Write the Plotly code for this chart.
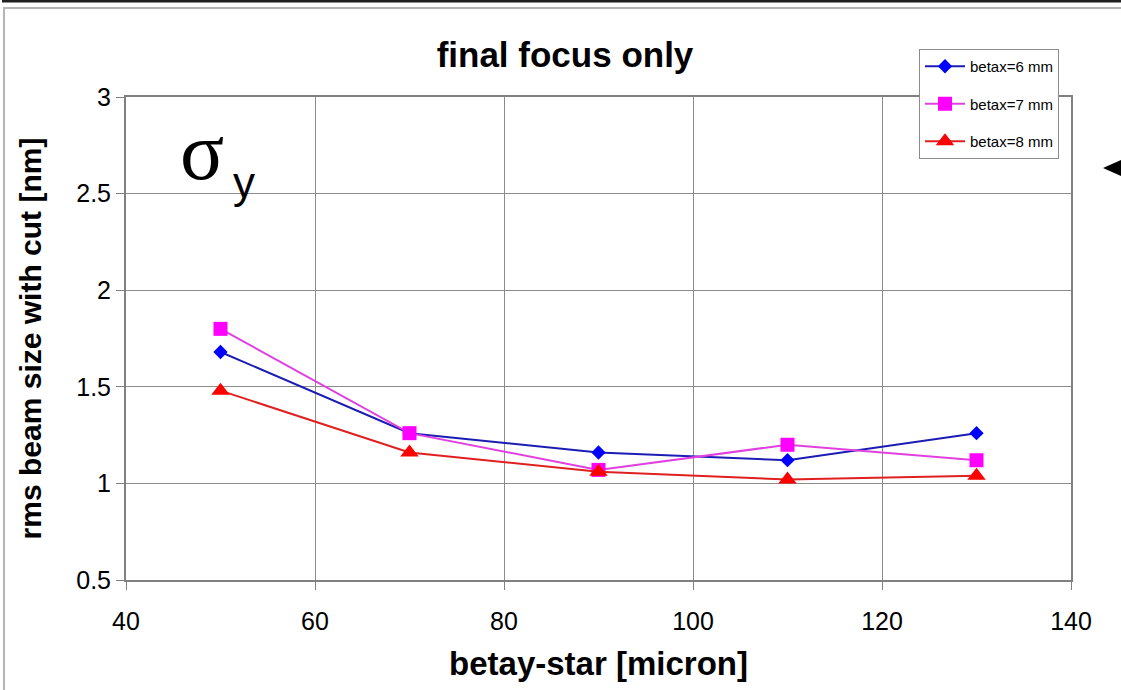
import plotly.graph_objects as go

# betay-star values [micron]
betay_star = [50, 70, 90, 110, 130]

# rms beam size with cut [nm] for each betax setting
size_betax_6mm = [1.68, 1.26, 1.16, 1.12, 1.26]
size_betax_7mm = [1.80, 1.26, 1.07, 1.20, 1.12]
size_betax_8mm = [1.48, 1.16, 1.06, 1.02, 1.04]

series_names = ["betax=6 mm", "betax=7 mm", "betax=8 mm"]

x_ticks = [40, 60, 80, 100, 120, 140]
y_ticks = [0.5, 1, 1.5, 2, 2.5, 3]

FONT = "Liberation Sans, Arial, sans-serif"

fig = go.Figure()

styles = [
    (size_betax_6mm, "diamond", 11, "#0000ff", "#1c1cb4"),
    (size_betax_7mm, "square", 14, "#ff00ff", "#e040e0"),
    (size_betax_8mm, "triangle-up", 16, "#ff0000", "#e02020"),
]
for name, (vals, sym, msize, mcol, lcol) in zip(series_names, styles):
    fig.add_trace(go.Scatter(
        x=betay_star, y=vals, name=name, legendgroup=name,
        mode="lines+markers",
        line=dict(color=lcol, width=2),
        marker=dict(symbol=sym, size=msize, color=mcol, line=dict(width=0)),
    ))

# plot-area geometry in pixels, used to place decorations in paper space
L, R, T, B, W, H = 126, 50, 97, 110, 1121, 690
PW, PH = W - L - R, H - T - B


def px(x):
    return (x - L) / PW


def py(y):
    return (H - B - y) / PH


shapes = [
    # outer frame
    dict(type="rect", xref="paper", yref="paper",
         x0=px(4), x1=px(1130), y0=py(8), y1=py(700),
         line=dict(color="#b4b4b4", width=2), fillcolor="rgba(0,0,0,0)", layer="below"),
    # dark rule along the top edge
    dict(type="line", xref="paper", yref="paper",
         x0=px(2), x1=px(1130), y0=py(1), y1=py(1),
         line=dict(color="#202020", width=3)),
    # pointer on the right edge
    dict(type="path", xref="paper", yref="paper",
         path=f"M {px(1103)},{py(168)} L {px(1130)},{py(156)} L {px(1130)},{py(180)} Z",
         fillcolor="black", line=dict(color="black", width=0)),
]

annotations = [
    dict(text="σ", xref="paper", yref="paper", x=px(202), y=py(151),
         xanchor="center", yanchor="middle", showarrow=False,
         font=dict(family="Liberation Serif, Times New Roman, serif", size=82, color="black")),
    dict(text="y", xref="paper", yref="paper", x=px(244), y=py(182),
         xanchor="center", yanchor="middle", showarrow=False,
         font=dict(family=FONT, size=44, color="black")),
]

fig.update_layout(
    width=W, height=H,
    margin=dict(l=L, r=R, t=T, b=B, autoexpand=False),
    paper_bgcolor="white", plot_bgcolor="white",
    font=dict(family=FONT, color="black"),
    title=dict(text="<b>final focus only</b>", x=px(565), xref="paper",
               y=1 - 55 / H, yref="container", xanchor="center", yanchor="middle",
               font=dict(family=FONT, size=35, color="black")),
    xaxis=dict(
        range=[40, 140], tickvals=x_ticks, ticks="outside", ticklen=8,
        tickcolor="#808080", showgrid=True, gridcolor="#8c8c8c", gridwidth=1,
        showline=True, linecolor="#808080", linewidth=2, mirror=True, zeroline=False,
        tickfont=dict(size=25, family=FONT), ticklabelstandoff=10,
        title=dict(text="<b>betay-star [micron]</b>", standoff=18,
                   font=dict(size=33, family=FONT)),
    ),
    yaxis=dict(
        range=[0.5, 3], tickvals=y_ticks, ticktext=["0.5", "1", "1.5", "2", "2.5", "3"],
        ticks="outside", ticklen=8, tickcolor="#808080",
        showgrid=True, gridcolor="#8c8c8c", gridwidth=1,
        showline=True, linecolor="#808080", linewidth=2, mirror=True, zeroline=False,
        tickfont=dict(size=25, family=FONT),
        title=dict(text="<b>rms beam size with cut [nm]</b>", standoff=26,
                   font=dict(size=30, family=FONT)),
    ),
    legend=dict(
        x=px(919), y=py(49), xanchor="left", yanchor="top",
        bgcolor="white", bordercolor="#8c8c8c", borderwidth=1,
        font=dict(size=15, family=FONT, color="black"),
        tracegroupgap=15, itemwidth=40,
    ),
    shapes=shapes,
    annotations=annotations,
    showlegend=True,
)

fig.write_html("out.html")
